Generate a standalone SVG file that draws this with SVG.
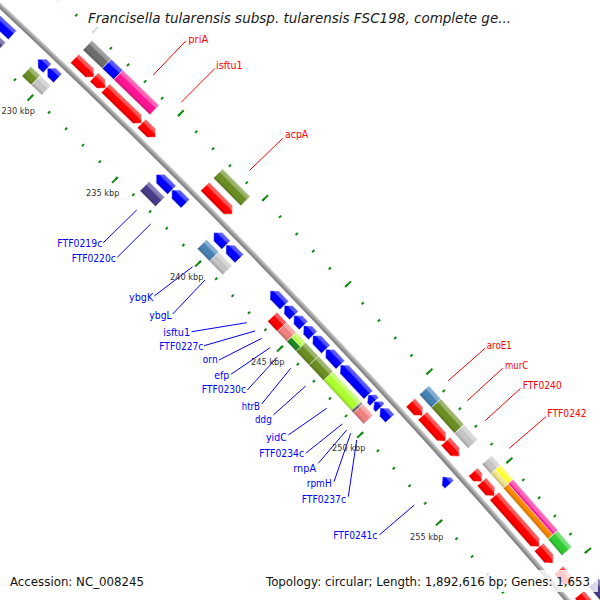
<svg xmlns="http://www.w3.org/2000/svg" width="600" height="600" viewBox="0 0 600 600">
<defs>
<linearGradient id="sh" x1="0" y1="0" x2="1" y2="0">
<stop offset="0" stop-color="#000" stop-opacity=".2"/>
<stop offset=".28" stop-color="#000" stop-opacity="0"/>
<stop offset=".6" stop-color="#fff" stop-opacity="0"/>
<stop offset=".72" stop-color="#fff" stop-opacity=".32"/>
<stop offset="1" stop-color="#fff" stop-opacity=".38"/>
</linearGradient>
<style>
.c{stroke:#fff;stroke-width:.5}
.s{fill:url(#sh)}
.red{fill:#f00}.blu{fill:#00f}.dgy{fill:#6e6e6e}.lgy{fill:#c4c4c4}.pnk{fill:#ff1493}.olv{fill:#6b8e23}
.dsb{fill:#483d8b}.stb{fill:#4682b4}.lco{fill:#f08080}.gyl{fill:#adff2f}.fgr{fill:#228b22}
.yel{fill:#ff0}.kha{fill:#f0e68c}.org{fill:#ff8c00}.lim{fill:#32cd32}
.tick{fill:none;stroke:#138a13}
.lb{font-family:"DejaVu Sans",Verdana,sans-serif;font-size:10.6px}
.fw{fill:#f00}.rv{fill:#00f;text-anchor:end}
.kb{font-family:"DejaVu Sans",Verdana,sans-serif;font-size:8.2px;fill:#333}
.ft{font-family:"DejaVu Sans",Verdana,sans-serif;font-size:11.8px;fill:#111}
#connectors .f{stroke:#f00;stroke-width:1}
#connectors .r{stroke:#00f;stroke-width:1}
</style>
</defs>
<rect width="600" height="600" fill="#fff"/>
<g id="map" transform="translate(-4881 5232)">
<g id="ruler">
<circle class="tick" r="7107.5" stroke-width="3" stroke-dasharray="2 21.5959" stroke-dashoffset="1" transform="rotate(-47.2211)"/>
<circle class="tick" r="7105" stroke-width="8" stroke-dasharray="2 115.937" stroke-dashoffset="1" transform="rotate(-47.2211)"/>
<circle class="tick" r="7196.5" stroke-width="3" stroke-dasharray="2 21.8913" stroke-dashoffset="1" transform="rotate(-47.2211)"/>
<circle class="tick" r="7199" stroke-width="8" stroke-dasharray="2 117.497" stroke-dashoffset="1" transform="rotate(-47.2211)"/>
</g>
<g id="backbone" fill="none">
<circle r="7151" stroke="#a4a4a4" stroke-width="5"/>
<circle r="7149.6" stroke="#878787" stroke-width="2"/>
<circle r="7152.9" stroke="#cacaca" stroke-width="1.2"/>
</g>
<g id="features">
<g id="r0" transform="rotate(-47.0689) translate(7100 0)">
<path class="c blu" d="M32 6L38 0L44 6V43.2H32Z"/><path class="s" d="M32 6L38 0L44 6V43.2H32Z"/>
<rect class="c dsb" x="15" width="13" height="43.2"/><rect class="s" x="15" width="13" height="43.2"/>
</g>
<g id="r1" transform="rotate(-46.4412) translate(7100 0)">
<path class="c blu" d="M32 6L38 0L44 6V13.06H32Z"/><path class="s" d="M32 6L38 0L44 6V13.06H32Z"/>
<rect class="c olv" x="15" width="13" height="13.06"/><rect class="s" x="15" width="13" height="13.06"/>
</g>
<g id="r2" transform="rotate(-46.3366) translate(7100 0)">
<path class="c blu" d="M32 6L38 0L44 6V14.49H32Z"/><path class="s" d="M32 6L38 0L44 6V14.49H32Z"/>
<rect class="c lgy" x="15" width="13" height="14.49"/><rect class="s" x="15" width="13" height="14.49"/>
</g>
<g id="f1" transform="rotate(-46.2320) translate(7100 0)">
<path class="c red" d="M58 0H70V20.84L64 26.84L58 20.84Z"/><path class="s" d="M58 0H70V20.84L64 26.84L58 20.84Z"/>
<rect class="c dgy" x="76" width="13" height="26.84"/><rect class="s" x="76" width="13" height="26.84"/>
</g>
<g id="f2" transform="rotate(-46.0170) translate(7100 0)">
<path class="c red" d="M58 0H70V9.91L64 15.91L58 9.91Z"/><path class="s" d="M58 0H70V9.91L64 15.91L58 9.91Z"/>
<rect class="c blu" x="76" width="13" height="15.91"/><rect class="s" x="76" width="13" height="15.91"/>
</g>
<g id="priA" transform="rotate(-45.8896) translate(7100 0)">
<path class="c red" d="M58 0H70V44.35L64 50.35L58 44.35Z"/><path class="s" d="M58 0H70V44.35L64 50.35L58 44.35Z"/>
<rect class="c pnk" x="76" width="13" height="50.35"/><rect class="s" x="76" width="13" height="50.35"/>
</g>
<g id="isftu1-f" transform="rotate(-45.4863) translate(7100 0)">
<path class="c red" d="M58 0H70V13.71L64 19.71L58 13.71Z"/><path class="s" d="M58 0H70V13.71L64 19.71L58 13.71Z"/>
</g>
<g id="FTF0219c" transform="rotate(-45.1154) translate(7100 0)">
<path class="c blu" d="M32 6L38 0L44 6V22.09H32Z"/><path class="s" d="M32 6L38 0L44 6V22.09H32Z"/>
<rect class="c dsb" x="15" width="13" height="22.09"/><rect class="s" x="15" width="13" height="22.09"/>
</g>
<g id="FTF0220c" transform="rotate(-44.9385) translate(7100 0)">
<path class="c blu" d="M32 6L38 0L44 6V19.24H32Z"/><path class="s" d="M32 6L38 0L44 6V19.24H32Z"/>
</g>
<g id="acpA" transform="rotate(-44.7712) translate(7100 0)">
<path class="c red" d="M58 0H70V32.95L64 38.95L58 32.95Z"/><path class="s" d="M58 0H70V32.95L64 38.95L58 32.95Z"/>
<rect class="c olv" x="76" width="13" height="38.95"/><rect class="s" x="76" width="13" height="38.95"/>
</g>
<g id="ybgK" transform="rotate(-44.4592) translate(7100 0)">
<path class="c blu" d="M32 6L38 0L44 6V17.58H32Z"/><path class="s" d="M32 6L38 0L44 6V17.58H32Z"/>
<rect class="c stb" x="15" width="13" height="17.58"/><rect class="s" x="15" width="13" height="17.58"/>
</g>
<g id="ybgL" transform="rotate(-44.3184) translate(7100 0)">
<path class="c blu" d="M32 6L38 0L44 6V19H32Z"/><path class="s" d="M32 6L38 0L44 6V19H32Z"/>
<rect class="c lgy" x="15" width="13" height="19"/><rect class="s" x="15" width="13" height="19"/>
</g>
<g id="isftu1-r" transform="rotate(-43.8087) translate(7100 0)">
<path class="c blu" d="M32 6L38 0L44 6V20.43H32Z"/><path class="s" d="M32 6L38 0L44 6V20.43H32Z"/>
</g>
<g id="orn" transform="rotate(-43.6451) translate(7100 0)">
<path class="c blu" d="M32 6L38 0L44 6V14.01H32Z"/><path class="s" d="M32 6L38 0L44 6V14.01H32Z"/>
<rect class="c red" x="15" width="13" height="14.01"/><rect class="s" x="15" width="13" height="14.01"/>
</g>
<g id="efp" transform="rotate(-43.5329) translate(7100 0)">
<path class="c blu" d="M32 6L38 0L44 6V14.01H32Z"/><path class="s" d="M32 6L38 0L44 6V14.01H32Z"/>
<rect class="c lco" x="15" width="13" height="14.01"/><rect class="s" x="15" width="13" height="14.01"/>
</g>
<g id="FTF0230c" transform="rotate(-43.4207) translate(7100 0)">
<path class="c blu" d="M32 6L38 0L44 6V13.54H32Z"/><path class="s" d="M32 6L38 0L44 6V13.54H32Z"/>
<rect class="c fgr" x="15" width="6.5" height="13.54"/><rect class="c gyl" x="21.5" width="6.5" height="13.54"/><rect class="s" x="15" width="13" height="13.54"/>
</g>
<g id="htrB" transform="rotate(-43.3122) translate(7100 0)">
<path class="c blu" d="M32 6L38 0L44 6V19H32Z"/><path class="s" d="M32 6L38 0L44 6V19H32Z"/>
<rect class="c olv" x="15" width="13" height="19"/><rect class="s" x="15" width="13" height="19"/>
</g>
<g id="ddg" transform="rotate(-43.1601) translate(7100 0)">
<path class="c blu" d="M32 6L38 0L44 6V21.38H32Z"/><path class="s" d="M32 6L38 0L44 6V21.38H32Z"/>
<rect class="c olv" x="15" width="13" height="21.38"/><rect class="s" x="15" width="13" height="21.38"/>
</g>
<g id="yidC" transform="rotate(-42.9889) translate(7100 0)">
<path class="c blu" d="M32 6L38 0L44 6V41.09H32Z"/><path class="s" d="M32 6L38 0L44 6V41.09H32Z"/>
<rect class="c gyl" x="15" width="13" height="41.09"/><rect class="s" x="15" width="13" height="41.09"/>
</g>
<g id="FTF0234c" transform="rotate(-42.6598) translate(7100 0)">
<path class="c blu" d="M32 5L38 0L44 5V9.03H32Z"/><path class="s" d="M32 5L38 0L44 5V9.03H32Z"/>
<rect class="c dgy" x="15" width="13" height="3.33"/><rect class="s" x="15" width="13" height="3.33"/>
</g>
<g id="rnpA" transform="rotate(-42.5875) translate(7100 0)">
<path class="c blu" d="M32 5L38 0L44 5V8.55H32Z"/><path class="s" d="M32 5L38 0L44 5V8.55H32Z"/>
</g>
<g id="rnpA-cog" transform="rotate(-42.6332) translate(7100 0)">
<rect class="c lco" x="15" width="13" height="14.96"/><rect class="s" x="15" width="13" height="14.96"/>
</g>
<g id="FTF0237c" transform="rotate(-42.5191) translate(7100 0)">
<path class="c blu" d="M32 6L38 0L44 6V14.49H32Z"/><path class="s" d="M32 6L38 0L44 6V14.49H32Z"/>
</g>
<g id="aroE1" transform="rotate(-42.3859) translate(7100 0)">
<path class="c red" d="M58 0H70V11.81L64 17.81L58 11.81Z"/><path class="s" d="M58 0H70V11.81L64 17.81L58 11.81Z"/>
<rect class="c stb" x="76" width="13" height="17.81"/><rect class="s" x="76" width="13" height="17.81"/>
</g>
<g id="murC" transform="rotate(-42.2433) translate(7100 0)">
<path class="c red" d="M58 0H70V28.44L64 34.44L58 28.44Z"/><path class="s" d="M58 0H70V28.44L64 34.44L58 28.44Z"/>
<rect class="c olv" x="76" width="13" height="34.44"/><rect class="s" x="76" width="13" height="34.44"/>
</g>
<g id="FTF0240" transform="rotate(-41.9675) translate(7100 0)">
<path class="c red" d="M58 0H70V14.19L64 20.19L58 14.19Z"/><path class="s" d="M58 0H70V14.19L64 20.19L58 14.19Z"/>
<rect class="c lgy" x="76" width="13" height="20.19"/><rect class="s" x="76" width="13" height="20.19"/>
</g>
<g id="FTF0241c" transform="rotate(-41.7734) translate(7100 0)">
<path class="c blu" d="M32 6L38 0L44 6V10.45H32Z"/><path class="s" d="M32 6L38 0L44 6V10.45H32Z"/>
</g>
<g id="FTF0242" transform="rotate(-41.6384) translate(7100 0)">
<path class="c red" d="M58 0H70V7.06L64 13.06L58 7.06Z"/><path class="s" d="M58 0H70V7.06L64 13.06L58 7.06Z"/>
<rect class="c lgy" x="76" width="13" height="13.06"/><rect class="s" x="76" width="13" height="13.06"/>
</g>
<g id="f10" transform="rotate(-41.5338) translate(7100 0)">
<path class="c red" d="M58 0H70V13L64 19L58 13Z"/><path class="s" d="M58 0H70V13L64 19L58 13Z"/>
<rect class="c kha" x="76" width="6.5" height="19"/><rect class="c yel" x="82.5" width="6.5" height="19"/><rect class="s" x="76" width="13" height="19"/>
</g>
<g id="f11" transform="rotate(-41.3816) translate(7100 0)">
<path class="c red" d="M58 0H70V61.69L64 67.69L58 61.69Z"/><path class="s" d="M58 0H70V61.69L64 67.69L58 61.69Z"/>
<rect class="c org" x="76" width="6.5" height="67.69"/><rect class="c pnk" x="82.5" width="6.5" height="67.69"/><rect class="s" x="76" width="13" height="67.69"/>
</g>
<g id="f12" transform="rotate(-40.8395) translate(7100 0)">
<path class="c red" d="M58 0H70V15.38L64 21.38L58 15.38Z"/><path class="s" d="M58 0H70V15.38L64 21.38L58 15.38Z"/>
<rect class="c lim" x="76" width="13" height="21.38"/><rect class="s" x="76" width="13" height="21.38"/>
</g>
<g id="f13" transform="rotate(-40.5960) translate(7100 0)">
<path class="c red" d="M58 0H70V14L64 20L58 14Z"/><path class="s" d="M58 0H70V14L64 20L58 14Z"/>
</g>
<g id="f14" transform="rotate(-40.3400) translate(7100 0)">
<path class="c red" d="M58 0H70V40L64 46L58 40Z"/><path class="s" d="M58 0H70V40L64 46L58 40Z"/>
<rect class="c dsb" x="76" width="13" height="46"/><rect class="s" x="76" width="13" height="46"/>
</g>
</g>
</g>
<g id="connectors">
<line class="f" x1="186" y1="40.7" x2="153.3" y2="75"/>
<line class="f" x1="215" y1="68.3" x2="181.5" y2="102"/>
<line class="f" x1="282.7" y1="138.3" x2="249.3" y2="170.7"/>
<line class="f" x1="485" y1="348.3" x2="448.3" y2="380.7"/>
<line class="f" x1="502.7" y1="368.3" x2="467.3" y2="400.7"/>
<line class="f" x1="520.7" y1="388.3" x2="485" y2="420.7"/>
<line class="f" x1="546" y1="416.7" x2="509.3" y2="448.3"/>
<line class="r" x1="103.3" y1="242.7" x2="136.7" y2="210"/>
<line class="r" x1="117.3" y1="257.3" x2="150.7" y2="224"/>
<line class="r" x1="154.3" y1="296" x2="192.7" y2="266.7"/>
<line class="r" x1="172.7" y1="314" x2="205" y2="280"/>
<line class="r" x1="191.7" y1="331.7" x2="246.7" y2="322.7"/>
<line class="r" x1="204" y1="345.7" x2="255" y2="331"/>
<line class="r" x1="219" y1="360" x2="261.7" y2="338.3"/>
<line class="r" x1="231" y1="374.3" x2="270" y2="347.7"/>
<line class="r" x1="247.3" y1="390" x2="277.3" y2="357.3"/>
<line class="r" x1="261.7" y1="404" x2="290.7" y2="368.3"/>
<line class="r" x1="273.3" y1="415" x2="305.7" y2="386"/>
<line class="r" x1="288.3" y1="435" x2="326.7" y2="408.3"/>
<line class="r" x1="305.7" y1="453.3" x2="342.3" y2="424"/>
<line class="r" x1="318.3" y1="463.3" x2="346.7" y2="430"/>
<line class="r" x1="334" y1="481.7" x2="350.7" y2="433.3"/>
<line class="r" x1="348.3" y1="496.7" x2="356.7" y2="440"/>
<line class="r" x1="379.3" y1="535" x2="414.3" y2="505"/>
</g>
<g id="labels" class="lb">
<text class="fw" x="188.3" y="43" textLength="20" lengthAdjust="spacingAndGlyphs">priA</text>
<text class="fw" x="216" y="68.5" textLength="26.7" lengthAdjust="spacingAndGlyphs">isftu1</text>
<text class="fw" x="285" y="138" textLength="23.3" lengthAdjust="spacingAndGlyphs">acpA</text>
<text class="fw" x="486.7" y="349" textLength="25" lengthAdjust="spacingAndGlyphs">aroE1</text>
<text class="fw" x="505" y="369" textLength="23.3" lengthAdjust="spacingAndGlyphs">murC</text>
<text class="fw" x="522.7" y="388.5" textLength="39" lengthAdjust="spacingAndGlyphs">FTF0240</text>
<text class="fw" x="547.3" y="416.7" textLength="39.4" lengthAdjust="spacingAndGlyphs">FTF0242</text>
<text class="rv" x="102.3" y="247.3" textLength="45" lengthAdjust="spacingAndGlyphs">FTF0219c</text>
<text class="rv" x="115.7" y="261.7" textLength="44" lengthAdjust="spacingAndGlyphs">FTF0220c</text>
<text class="rv" x="153.3" y="301" textLength="24.3" lengthAdjust="spacingAndGlyphs">ybgK</text>
<text class="rv" x="171.7" y="319.3" textLength="22.4" lengthAdjust="spacingAndGlyphs">ybgL</text>
<text class="rv" x="190" y="336" textLength="26.7" lengthAdjust="spacingAndGlyphs">isftu1</text>
<text class="rv" x="203.3" y="350" textLength="44" lengthAdjust="spacingAndGlyphs">FTF0227c</text>
<text class="rv" x="217.7" y="363" textLength="15" lengthAdjust="spacingAndGlyphs">orn</text>
<text class="rv" x="229.3" y="379.3" textLength="15" lengthAdjust="spacingAndGlyphs">efp</text>
<text class="rv" x="246" y="393.3" textLength="44.3" lengthAdjust="spacingAndGlyphs">FTF0230c</text>
<text class="rv" x="260" y="410" textLength="18.3" lengthAdjust="spacingAndGlyphs">htrB</text>
<text class="rv" x="271.7" y="422.7" textLength="16.7" lengthAdjust="spacingAndGlyphs">ddg</text>
<text class="rv" x="286.7" y="440.7" textLength="20.7" lengthAdjust="spacingAndGlyphs">yidC</text>
<text class="rv" x="304" y="457.3" textLength="44.7" lengthAdjust="spacingAndGlyphs">FTF0234c</text>
<text class="rv" x="316" y="471.7" textLength="22.7" lengthAdjust="spacingAndGlyphs">rnpA</text>
<text class="rv" x="331.7" y="487.3" textLength="25" lengthAdjust="spacingAndGlyphs">rpmH</text>
<text class="rv" x="346" y="503.3" textLength="44.3" lengthAdjust="spacingAndGlyphs">FTF0237c</text>
<text class="rv" x="377.3" y="539.3" textLength="44" lengthAdjust="spacingAndGlyphs">FTF0241c</text>
</g>
<g id="ruler-labels" class="kb">
<text x="1.5" y="113.5">230 kbp</text>
<text x="86" y="195.5">235 kbp</text>
<text x="170" y="280">240 kbp</text>
<text x="251" y="364.5">245 kbp</text>
<text x="332" y="450.5">250 kbp</text>
<text x="410" y="540">255 kbp</text>
</g>
<g id="title">
<rect x="84" y="6" width="434" height="29" fill="#fff" fill-opacity=".8"/>
<text x="88" y="23" font-family="DejaVu Sans, Verdana, sans-serif" font-style="italic" font-size="13.5" fill="#1a1a1a">Francisella tularensis subsp. tularensis FSC198, complete ge...</text>
</g>
<g id="legend">
<rect x="3" y="570" width="156" height="22" fill="#fff" fill-opacity=".8"/>
<rect x="250" y="570" width="348" height="22" fill="#fff" fill-opacity=".8"/>
<text class="ft" x="10" y="586">Accession: NC_008245</text>
<text class="ft" x="590" y="586" text-anchor="end">Topology: circular; Length: 1,892,616 bp; Genes: 1,653</text>
</g>
</svg>
